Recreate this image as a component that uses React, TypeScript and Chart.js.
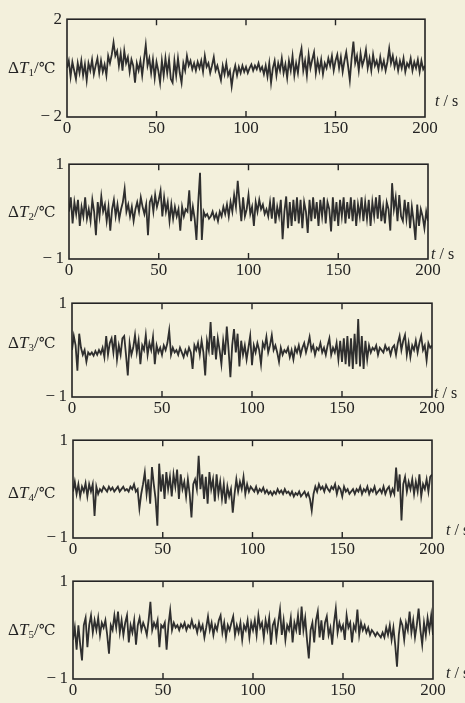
import React, { useEffect, useRef } from "react";
import { Chart, registerables } from "chart.js";

Chart.register(...registerables);

// sampling grid: one sample per second, 0..200 s
const TIME_S: number[] = Array.from({ length: 201 }, (_, i) => i);
const X_TICKS = [0, 50, 100, 150, 200];
const Y_TICKS_T1 = [-2, 2];
const Y_TICKS_T2_T5 = [-1, 1];

const DT1 = [
  0.0, 0.3, -0.35, 0.25, -0.1, -0.45, 0.2, -0.2, 0.3, -0.3,
  0.15, -0.5, 0.2, -0.1, 0.35, -0.25, 0.1, 0.4, -0.2, 0.3,
  -0.15, 0.15, -0.3, 0.5, 0.2, 0.55, 1.05, 0.5, 0.7, 0.1,
  0.6, -0.1, 0.7, 0.2, 0.45, -0.15, 0.35, 0.1, -0.6, 0.2,
  -0.1, 0.3, -0.3, 0.35, 0.95, 0.1, 0.4, -0.2, 0.35, -0.4,
  0.25, -0.1, -0.6, 0.3, -0.3, 0.4, -0.2, 0.35, -0.45, -0.6,
  0.3, -0.3, 0.4, -0.2, -0.6, 0.2, -0.1, 0.5, 0.1, 0.3,
  -0.05, 0.2, -0.1, 0.25, 0.0, 0.3, -0.15, 0.5, 0.05, 0.2,
  -0.2, 0.1, 0.45, -0.1, 0.1, -0.2, -0.5, 0.1, -0.25, 0.2,
  -0.3, -0.1, -0.75, -0.2, 0.1, -0.3, 0.05, -0.2, 0.1, -0.15,
  0.05, -0.2, 0.0, 0.15, -0.1, 0.1, -0.05, 0.2, -0.1, 0.05,
  -0.25, 0.1, -0.35, 0.2, -0.6, 0.0, 0.3, -0.3, 0.2, -0.1,
  0.4, -0.2, 0.15, -0.4, 0.3, -0.1, 0.5, -0.3, 0.2, -0.2,
  0.45, 0.8, -0.1, 0.3, -0.3, 0.55, 0.0, 0.35, 0.65, -0.2,
  0.3, -0.1, 0.35, -0.25, 0.2, 0.0, 0.4, 0.1, 0.5, -0.1,
  0.3, 0.55, 0.0, 0.45, -0.15, 0.3, 0.65, 0.1, -0.5, 0.4,
  1.08, 0.2, 0.5, -0.1, 0.6, 0.1, 0.35, 0.75, 0.0, 0.4,
  -0.1, 0.55, 0.1, 0.3, -0.05, 0.45, 0.0, 0.3, -0.1, 0.25,
  0.8, 0.2, 0.5, 0.05, 0.35, -0.1, 0.3, 0.0, 0.4, -0.15,
  0.2, 0.05, 0.4, -0.1, 0.25, 0.0, 0.35, -0.15, 0.3, -0.05,
  0.1,
];

const DT2 = [
  0.0, 0.3, -0.25, 0.2, -0.05, 0.25, -0.3, 0.1, -0.1, 0.3,
  -0.15, 0.05, -0.2, 0.25, 0.0, -0.5, 0.2, -0.1, 0.32, 0.0,
  0.15, -0.2, 0.1, -0.4, 0.05, 0.25, -0.1, 0.15, -0.15, 0.05,
  0.2, 0.48, 0.0, 0.15, -0.1, 0.1, -0.2, 0.05, 0.2, 0.0,
  0.3, 0.1, -0.05, 0.15, -0.5, 0.2, 0.3, 0.0, 0.35, 0.1,
  0.25, 0.44, -0.1, 0.3, 0.0, 0.2, -0.2, 0.15, -0.15, 0.1,
  -0.1, 0.05, -0.4, 0.1, -0.1, 0.05, 0.0, 0.45, -0.2, 0.1,
  -0.15, -0.6, 0.2, 0.82, -0.6, 0.0, -0.1, -0.05, -0.15, -0.1,
  0.0, -0.15, -0.05, -0.2, 0.0, -0.1, 0.1, -0.05, 0.15, -0.1,
  0.2, 0.0, 0.35, 0.1, 0.65, 0.2, -0.2, 0.3, -0.1, 0.05,
  0.35, -0.05, 0.1, -0.3, 0.2, 0.0, 0.25, 0.05, 0.15, -0.05,
  0.05, -0.1, 0.2, -0.15, 0.3, -0.25, 0.1, -0.1, 0.25, -0.58,
  0.0, 0.32, -0.35, 0.2, -0.3, 0.25, -0.2, 0.3, -0.25, 0.25,
  -0.35, 0.2, 0.0, -0.45, 0.25, -0.2, 0.3, -0.15, 0.2, -0.3,
  0.25, -0.1, 0.3, -0.25, 0.2, 0.05, -0.42, 0.3, -0.2, 0.2,
  -0.3, 0.25, -0.1, 0.3, -0.25, 0.2, -0.15, 0.3, -0.2, 0.25,
  -0.3, 0.15, -0.1, 0.3, -0.2, 0.2, -0.15, 0.25, -0.3, 0.2,
  -0.1, 0.3, -0.15, 0.35, -0.2, 0.1, -0.25, 0.2, 0.05, -0.4,
  0.6, 0.05, 0.3, -0.2, 0.35, -0.1, -0.2, 0.25, -0.15, 0.2,
  -0.35, 0.1, -0.2, -0.6, 0.15, -0.3, 0.05, -0.1, -0.35, 0.0,
  -0.2,
];

const DT3 = [
  0.0, 0.3, 0.1, -0.44, 0.35, 0.05, -0.1, 0.0, -0.25, -0.05,
  -0.1, -0.05, -0.12, -0.02, -0.1, 0.0, -0.08, 0.05, -0.15, 0.3,
  -0.1, 0.15, 0.25, -0.05, 0.32, -0.2, 0.1, -0.1, 0.25, 0.3,
  -0.1, -0.54, 0.15, -0.1, 0.05, 0.32, -0.05, 0.2, -0.3, 0.1,
  0.0, 0.32, -0.1, 0.15, 0.0, 0.28, -0.3, 0.1, -0.05, 0.05,
  -0.1, 0.1, 0.0, 0.15, 0.42, -0.1, 0.05, -0.05, 0.0, -0.1,
  0.05, -0.05, -0.15, 0.0, -0.1, 0.05, -0.05, -0.4, 0.1, 0.0,
  0.15, -0.1, 0.2, -0.05, -0.54, 0.2, 0.0, 0.6, -0.1, 0.3,
  -0.2, 0.25, 0.0, -0.3, 0.2, -0.1, 0.5, 0.0, -0.58, 0.1,
  0.45, -0.05, 0.35, -0.35, 0.2, -0.1, 0.1, -0.2, 0.05, 0.3,
  -0.32, 0.1, -0.05, 0.15, 0.0, -0.3, 0.15, 0.05, 0.28, -0.05,
  0.1, 0.32, 0.0, 0.1, -0.05, -0.25, 0.05, -0.1, 0.0, -0.05,
  0.05, -0.15, 0.0, -0.2, 0.05, -0.05, 0.1, -0.1, 0.05, 0.15,
  -0.05, 0.1, 0.28, 0.0, 0.1, -0.1, 0.05, 0.0, 0.15, -0.05,
  0.05, -0.1, 0.1, 0.25, -0.1, 0.05, -0.05, 0.15, -0.2, 0.2,
  -0.25, 0.25, -0.3, 0.3, -0.35, 0.25, -0.4, 0.35, -0.3, 0.66,
  -0.35, 0.3, -0.4, 0.2, -0.2, 0.1, -0.05, 0.05, 0.0, 0.1,
  -0.1, 0.05, 0.0, -0.05, 0.1, 0.0, 0.05, -0.1, 0.05, 0.1,
  -0.1, 0.15, 0.3, 0.0, 0.2, 0.32, -0.1, 0.15, -0.15, 0.1,
  0.0, 0.2, -0.05, 0.15, 0.3, 0.0, 0.1, -0.22, 0.15, 0.05,
  0.1,
];

const DT4 = [
  -0.05, 0.15, -0.1, 0.1, -0.15, 0.05, -0.05, 0.12, -0.15, 0.1,
  -0.05, 0.1, -0.55, 0.05, -0.1, 0.0, -0.05, 0.05, 0.0, -0.05,
  0.05, -0.02, 0.03, -0.05, 0.0, 0.05, -0.05, 0.0, 0.05, -0.03,
  0.0, -0.05, 0.05, 0.0, 0.1, -0.05, 0.0, -0.4, -0.1, 0.1,
  0.34, -0.1, 0.2, -0.3, 0.45, 0.1, -0.2, -0.75, 0.52, -0.05,
  0.3, -0.2, 0.35, 0.0, 0.25, -0.15, 0.3, 0.05, 0.4, -0.2,
  0.3, 0.0, 0.15, -0.15, 0.2, -0.1, -0.58, 0.1, 0.2, 0.0,
  0.68, 0.0, 0.3, -0.2, 0.25, -0.3, 0.35, 0.0, 0.2, -0.25,
  0.3, -0.1, 0.15, -0.2, 0.1, -0.3, 0.05, -0.15, 0.0, -0.48,
  -0.1, 0.2, -0.05, 0.15, 0.0, 0.25, -0.1, 0.1, -0.05, 0.05,
  0.0, -0.05, 0.05, -0.08, 0.0, -0.05, 0.03, -0.08, -0.02, -0.1,
  -0.05, -0.12, -0.05, -0.1, 0.0, -0.08, -0.03, -0.1, 0.0, -0.08,
  -0.05, -0.12, -0.05, -0.15, -0.08, -0.12, -0.05, -0.15, -0.1, -0.05,
  -0.15, -0.08, -0.2, -0.44, -0.1, 0.05, -0.05, 0.1, 0.0, 0.05,
  -0.05, 0.08, 0.0, -0.05, 0.05, 0.0, 0.1, -0.1, 0.05, 0.0,
  -0.15, 0.05, -0.05, 0.0, -0.1, -0.05, 0.0, -0.1, 0.0, -0.05,
  0.05, -0.1, 0.0, -0.05, 0.05, -0.1, 0.0, -0.05, 0.05, -0.1,
  -0.05, 0.0, -0.08, 0.05, -0.1, 0.0, 0.05, -0.12, 0.0, -0.1,
  0.44, -0.05, 0.3, -0.64, 0.1, 0.25, -0.05, 0.15, 0.0, 0.2,
  -0.1, 0.15, -0.05, 0.3, -0.15, 0.1, 0.0, 0.2, -0.05, 0.25,
  0.3,
];

const DT5 = [
  -0.2, 0.05, -0.4, 0.1, -0.3, -0.62, 0.1, 0.25, -0.35, 0.1,
  0.3, -0.05, 0.2, 0.0, 0.25, -0.1, 0.15, 0.05, 0.2, -0.1,
  -0.48, 0.1, 0.0, 0.3, 0.05, 0.38, -0.05, 0.2, -0.1, 0.15,
  0.3, -0.25, 0.1, -0.05, 0.2, -0.3, 0.1, 0.25, 0.0, 0.15,
  0.05, -0.1, 0.2, 0.58, 0.0, 0.15, 0.05, 0.2, -0.35, 0.1,
  0.05, 0.15, -0.4, 0.1, 0.4, 0.0, 0.15, 0.05, 0.1, 0.0,
  0.12, 0.05, 0.15, 0.0, 0.1, 0.05, 0.2, 0.05, 0.1, -0.05,
  0.15, 0.0, 0.1, -0.15, 0.05, 0.28, 0.0, 0.15, -0.1, 0.1,
  0.0, 0.2, 0.3, -0.05, 0.15, -0.15, 0.1, 0.0, 0.15, 0.28,
  -0.1, 0.1, -0.05, 0.15, -0.2, 0.1, 0.0, 0.2, -0.15, 0.15,
  0.0, 0.2, -0.1, 0.3, 0.05, 0.15, -0.15, 0.2, 0.0, 0.25,
  -0.3, 0.1, 0.2, -0.15, 0.15, 0.42, -0.1, 0.2, -0.2, 0.1,
  0.0, 0.25, -0.25, 0.15, 0.0, 0.3, -0.1, 0.48, 0.0, 0.25,
  -0.2, -0.58, 0.0, 0.15, -0.25, 0.2, 0.38, -0.15, 0.2, -0.2,
  0.15, 0.28, -0.1, 0.05, -0.3, 0.15, 0.44, -0.05, 0.15, 0.0,
  0.1, -0.2, 0.3, 0.05, 0.15, -0.25, 0.1, 0.0, 0.42, -0.1,
  0.15, 0.0, 0.1, -0.05, 0.05, -0.1, 0.0, -0.05, -0.12, -0.05,
  -0.1, -0.15, -0.05, -0.15, 0.05, -0.1, 0.1, -0.2, 0.05, -0.3,
  -0.75, -0.1, 0.2, 0.1, -0.2, 0.15, 0.0, 0.38, -0.05, 0.2,
  -0.15, 0.1, 0.44, 0.0, -0.3, 0.15, -0.1, 0.25, 0.0, 0.3,
  -0.1,
];

const SERIES_NAMES = ["1", "2", "3", "4", "5"];

const PAGE_W = 465;
const PAGE_H = 703;
const PAD_T = 12;
const X_AXIS_H = 28;
const FONT_FAMILY = '"Liberation Serif", "Times New Roman", serif';
const INK = "#242424";

type Box = { L: number; T: number; R: number; B: number };

const PANELS: {
  values: number[];
  yTicks: number[];
  box: Box;
  labelY: number;
  tsX: number;
  tsY: number;
}[] = [
  { values: DT1, yTicks: Y_TICKS_T1, box: { L: 67, T: 16, R: 425, B: 117 }, labelY: 68, tsX: 435, tsY: 101 },
  { values: DT2, yTicks: Y_TICKS_T2_T5, box: { L: 69, T: 161, R: 428, B: 259 }, labelY: 212, tsX: 431, tsY: 254 },
  { values: DT3, yTicks: Y_TICKS_T2_T5, box: { L: 72, T: 300, R: 432, B: 397 }, labelY: 343, tsX: 434, tsY: 393 },
  { values: DT4, yTicks: Y_TICKS_T2_T5, box: { L: 73, T: 437, R: 432, B: 538 }, labelY: 493, tsX: 446, tsY: 530 },
  { values: DT5, yTicks: Y_TICKS_T2_T5, box: { L: 73, T: 578, R: 433, B: 679 }, labelY: 630, tsX: 446, tsY: 673 },
];

const framePlugin = {
  id: "frame",
  afterDraw(chart: any) {
    const { ctx, chartArea: a, scales } = chart;
    const x = scales.x;
    ctx.save();
    ctx.strokeStyle = INK;
    ctx.lineWidth = 1.6;
    ctx.strokeRect(a.left, a.top, a.right - a.left, a.bottom - a.top);
    ctx.lineWidth = 1.4;
    x.ticks.forEach((t: any) => {
      if (t.value <= x.min || t.value >= x.max) return;
      const px = x.getPixelForValue(t.value);
      ctx.beginPath();
      ctx.moveTo(px, a.top);
      ctx.lineTo(px, a.top + 6);
      ctx.moveTo(px, a.bottom);
      ctx.lineTo(px, a.bottom - 6);
      ctx.stroke();
    });
    ctx.restore();
  },
};

function fmt(v: number): string {
  return v < 0 ? "\u2212\u2009" + Math.abs(v) : String(v);
}

function Panel({ values, yTicks, box }: { values: number[]; yTicks: number[]; box: Box }) {
  const ref = useRef<HTMLCanvasElement>(null);
  const h = box.B - box.T + PAD_T + X_AXIS_H;
  useEffect(() => {
    if (!ref.current) return;
    const chart = new Chart(ref.current, {
      type: "line",
      data: {
        datasets: [
          {
            data: TIME_S.map((t, i) => ({ x: t, y: values[i] })),
            borderColor: "#2f2f2f",
            borderWidth: 1.8,
            pointRadius: 0,
            tension: 0,
            fill: false,
          },
        ],
      },
      options: {
        responsive: false,
        animation: false,
        events: [],
        layout: { padding: { left: 0, top: PAD_T, right: PAGE_W - box.R, bottom: 0 } },
        plugins: { legend: { display: false }, tooltip: { enabled: false } },
        scales: {
          x: {
            type: "linear",
            min: X_TICKS[0],
            max: X_TICKS[X_TICKS.length - 1],
            afterBuildTicks: (s: any) => {
              s.ticks = X_TICKS.map((v) => ({ value: v }));
            },
            afterFit: (s: any) => {
              s.height = X_AXIS_H;
            },
            grid: { display: false, drawTicks: false },
            border: { display: false },
            ticks: {
              font: { family: FONT_FAMILY, size: 17 },
              color: INK,
              padding: 1,
              maxRotation: 0,
              autoSkip: false,
              callback: (v: any) => fmt(Number(v)),
            },
          },
          y: {
            type: "linear",
            min: yTicks[0],
            max: yTicks[yTicks.length - 1],
            afterBuildTicks: (s: any) => {
              s.ticks = yTicks.map((v) => ({ value: v }));
            },
            afterFit: (s: any) => {
              s.width = box.L;
            },
            grid: { display: false, drawTicks: false },
            border: { display: false },
            ticks: {
              font: { family: FONT_FAMILY, size: 17 },
              color: INK,
              padding: 5,
              autoSkip: false,
              callback: (v: any) => fmt(Number(v)),
            },
          },
        },
      } as any,
      plugins: [framePlugin as any],
    });
    return () => chart.destroy();
  }, [values, yTicks, box]);
  return (
    <canvas
      ref={ref}
      width={PAGE_W}
      height={h}
      style={{ position: "absolute", left: 0, top: box.T - PAD_T, width: PAGE_W, height: h }}
    />
  );
}

export default function App() {
  return (
    <div
      style={{
        position: "absolute",
        left: 0,
        top: 0,
        width: PAGE_W,
        height: PAGE_H,
        background: "#f3f0dc",
        overflow: "hidden",
        color: INK,
        fontFamily: FONT_FAMILY,
      }}
    >
      {PANELS.map((p, i) => (
        <React.Fragment key={i}>
          <Panel values={p.values} yTicks={p.yTicks} box={p.box} />
          <div
            style={{
              position: "absolute",
              left: 8,
              top: p.labelY - 11,
              fontSize: 17,
              lineHeight: "22px",
              whiteSpace: "nowrap",
            }}
          >
            Δ<i>T</i>
            <span style={{ fontSize: 11, position: "relative", top: 3 }}>{SERIES_NAMES[i]}</span>/
            <span style={{ fontFamily: '"DejaVu Serif", "Liberation Serif", serif', fontSize: 15 }}>℃</span>
          </div>
          <div
            style={{
              position: "absolute",
              left: p.tsX,
              top: p.tsY - 10,
              fontSize: 16,
              lineHeight: "20px",
              whiteSpace: "nowrap",
            }}
          >
            <i>t</i> / s
          </div>
        </React.Fragment>
      ))}
    </div>
  );
}
